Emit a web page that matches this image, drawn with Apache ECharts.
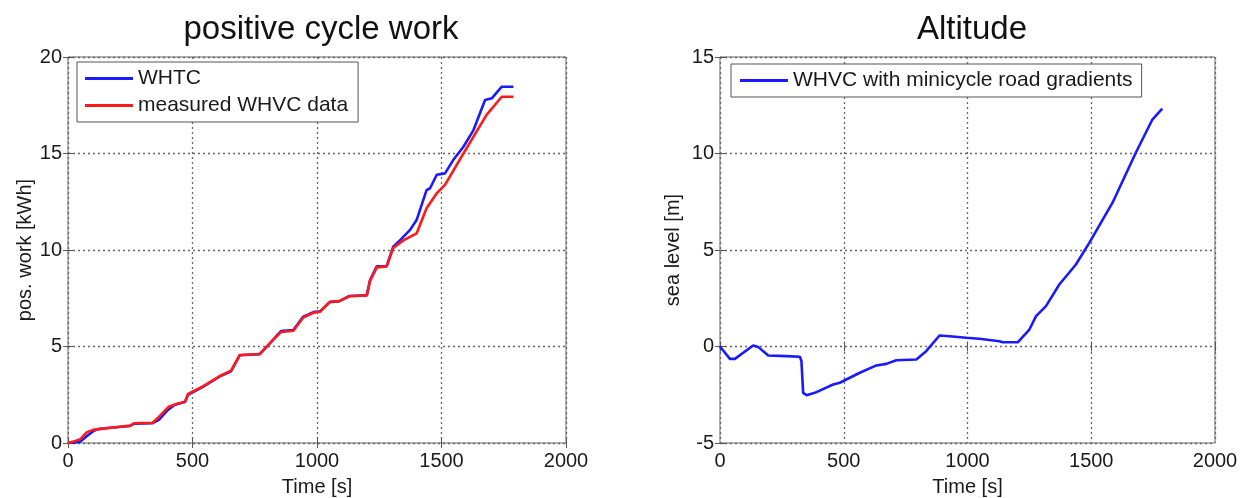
<!DOCTYPE html>
<html><head><meta charset="utf-8">
<script src="https://cdn.jsdelivr.net/npm/echarts@6/dist/echarts.min.js"></script>
<style>html,body{margin:0;padding:0;background:#fff}#c{width:1248px;height:498px}</style>
</head><body><div id="c"></div>
<script>
const whtcTime = [0,30,50,75,100,120,170,250,265,340,365,400,425,440,470,482,540,610,655,690,770,810,855,905,945,985,1012,1052,1090,1130,1200,1213,1240,1280,1306,1333,1373,1400,1440,1454,1481,1514,1547,1588,1628,1675,1702,1742,1789];
const whtcWork = [0,0.03,0.08,0.35,0.6,0.72,0.79,0.88,1.0,1.03,1.2,1.7,1.95,2.02,2.12,2.5,2.9,3.45,3.72,4.55,4.6,5.15,5.8,5.85,6.55,6.78,6.82,7.3,7.35,7.62,7.65,8.44,9.15,9.17,10.17,10.5,11.03,11.55,13.1,13.2,13.9,13.97,14.66,15.35,16.2,17.77,17.86,18.46,18.46];
const measTime = [0,30,50,75,100,170,250,265,340,365,405,435,470,482,540,610,655,690,770,810,855,905,945,985,1012,1052,1090,1130,1200,1213,1240,1280,1306,1347,1400,1440,1481,1514,1588,1681,1742,1789];
const measWork = [0,0.1,0.2,0.55,0.68,0.79,0.9,1.02,1.05,1.35,1.88,2.02,2.14,2.54,2.92,3.47,3.75,4.56,4.61,5.16,5.75,5.82,6.5,6.75,6.8,7.32,7.35,7.6,7.65,8.4,9.1,9.15,10.1,10.5,10.86,12.16,12.94,13.37,15.0,17.0,17.94,17.94];
const altTime = [0,40,60,134,154,195,269,323,329,336,350,383,457,484,565,632,672,712,793,833,887,927,995,1048,1129,1142,1203,1250,1277,1317,1371,1438,1492,1586,1680,1747,1787];
const altLevel = [0,-0.64,-0.64,0.05,-0.02,-0.47,-0.5,-0.53,-0.76,-2.4,-2.52,-2.4,-1.97,-1.88,-1.36,-0.98,-0.9,-0.71,-0.67,-0.24,0.57,0.53,0.45,0.4,0.27,0.22,0.22,0.88,1.57,2.09,3.21,4.25,5.37,7.45,10.04,11.76,12.32];

const zip = (a,b)=>a.map((t,i)=>[t,b[i]]);
const FONT = 'Liberation Sans';
const txt = '#1a1a1a';
const grid1 = {left:68,right:682,top:57,bottom:55,show:true,borderColor:'#666',borderWidth:1,containLabel:false,outerBoundsMode:'none'};
const grid2 = {left:720,right:33,top:57,bottom:55,show:true,borderColor:'#666',borderWidth:1,containLabel:false,outerBoundsMode:'none'};
const split = {show:true,lineStyle:{color:'#666',type:[2,3],width:1.3}};
const tick = {show:true,inside:true,length:5,lineStyle:{color:'#555'}};
const plain = v => String(v);

function xAx(gi,main){
  return {type:'value',gridIndex:gi,min:0,max:2000,interval:500,position:main?'bottom':'top',
    axisLine:{show:false},axisTick:tick,splitLine:main?split:{show:false},
    axisLabel:{show:main,color:txt,fontFamily:FONT,fontSize:20,margin:8,formatter:plain},
    name:main?'Time [s]':'',nameLocation:'middle',nameGap:34,
    nameTextStyle:{color:txt,fontFamily:FONT,fontSize:20}};
}
function yAx(gi,main,min,max,name,gap){
  return {type:'value',gridIndex:gi,min:min,max:max,interval:5,position:main?'left':'right',
    axisLine:{show:false},axisTick:tick,splitLine:main?split:{show:false},
    axisLabel:{show:main,color:txt,fontFamily:FONT,fontSize:20,margin:6,formatter:plain},
    name:main?name:'',nameLocation:'middle',nameGap:gap,
    nameTextStyle:{color:txt,fontFamily:FONT,fontSize:20}};
}

const chart = echarts.init(document.getElementById('c'),null,{renderer:'canvas'});
chart.setOption({
  animation:false,
  backgroundColor:'#fff',
  title:[
    {text:'positive cycle work',left:316,top:8,textAlign:'center',textStyle:{fontFamily:FONT,fontSize:33,fontWeight:'normal',color:'#111'}},
    {text:'Altitude',left:967,top:8,textAlign:'center',textStyle:{fontFamily:FONT,fontSize:33,fontWeight:'normal',color:'#111'}}
  ],
  grid:[grid1,grid2],
  xAxis:[xAx(0,true),xAx(0,false),xAx(1,true),xAx(1,false)],
  yAxis:[yAx(0,true,0,20,'pos. work [kWh]',33),yAx(0,false,0,20,'',0),yAx(1,true,-5,15,'sea level [m]',37),yAx(1,false,-5,15,'',0)],
  legend:[
    {data:['WHTC','measured WHVC data'],orient:'vertical',left:77,top:62,icon:'rect',itemWidth:48,itemHeight:3,itemGap:6,
     padding:[6,10,6,8],borderColor:'#555',borderWidth:1,backgroundColor:'#fff',
     textStyle:{fontFamily:FONT,fontSize:21,color:txt}},
    {data:['WHVC with minicycle road gradients'],orient:'vertical',left:731,top:64,icon:'rect',itemWidth:48,itemHeight:3,
     padding:[6,9,6,9],borderColor:'#555',borderWidth:1,backgroundColor:'#fff',
     textStyle:{fontFamily:FONT,fontSize:21,color:txt}}
  ],
  series:[
    {name:'WHTC',type:'line',xAxisIndex:0,yAxisIndex:0,data:zip(whtcTime,whtcWork),symbol:'none',
     lineStyle:{color:'#1a1aff',width:2.6},itemStyle:{color:'#1a1aff'}},
    {name:'measured WHVC data',type:'line',xAxisIndex:0,yAxisIndex:0,data:zip(measTime,measWork),symbol:'none',
     lineStyle:{color:'#ff1a1a',width:2.6},itemStyle:{color:'#ff1a1a'}},
    {name:'WHVC with minicycle road gradients',type:'line',xAxisIndex:2,yAxisIndex:2,data:zip(altTime,altLevel),symbol:'none',
     lineStyle:{color:'#1a1aff',width:2.6},itemStyle:{color:'#1a1aff'}}
  ]
});
</script></body></html>
